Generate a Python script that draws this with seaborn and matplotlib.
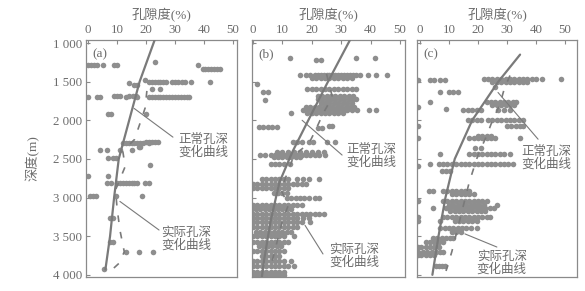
import numpy as np
import pandas as pd
import matplotlib
matplotlib.use("Agg")
import matplotlib.pyplot as plt
import seaborn as sns

sns.set_style("white")
plt.rcParams['font.family'] = ['Liberation Serif', 'Noto Sans CJK SC']
plt.rcParams['axes.unicode_minus'] = False

# ---------------- data ----------------
x_ticks = [0, 10, 20, 30, 40, 50]
y_ticks = [1000, 1500, 2000, 2500, 3000, 3500, 4000]
y_tick_labels = ["1 000", "1 500", "2 000", "2 500", "3 000", "3 500", "4 000"]
panel_labels = ["(a)", "(b)", "(c)"]
x_title = "孔隙度(%)"
y_title = "深度(m)"
normal_text = "正常孔深\n变化曲线"
actual_text = "实际孔深\n变化曲线"

# panel (a) measured porosity, grouped by depth row
a_depths = [1240, 1290, 1340, 1480, 1500, 1520, 1540, 1600, 1690, 1700, 1920,
            2280, 2300, 2340, 2390, 2490, 2580, 2720, 2810, 2980, 3260, 3570,
            3700, 3930]
a_porosity = [
    [23],
    [0, 1, 2, 3, 5, 9, 10, 38],
    [39.5, 40.5, 41.5, 42.5, 43.5, 44.5, 45.5],
    [19.5],
    [21, 22, 23, 24, 25, 26, 27, 29, 30, 31, 32.5, 33.5, 35.5, 42],
    [14],
    [16, 17],
    [22, 25],
    [9, 10, 11, 14, 15.5, 16.5],
    [0, 3, 4, 13, 17, 21, 22, 23, 24, 25, 26, 27, 28, 29, 30, 31, 32, 33, 34, 35],
    [7, 8, 20],
    [20, 21, 22, 23, 24],
    [12, 13, 14, 15, 16, 17, 18, 19, 21],
    [17.5, 18],
    [4, 6.5, 11, 15],
    [7, 8.5, 9.5],
    [21.5],
    [0, 7],
    [6.5, 8, 10, 11, 12, 13, 14, 15, 16, 17, 19.5, 21],
    [0.7, 1.7, 2.7, 9.5, 18.5],
    [7.5, 8.5],
    [7.5, 8.5],
    [13, 17.5, 22.5],
    [5.5],
]

# panel (b)
b_depths = [1190, 1200, 1220, 1420, 1450, 1530, 1600, 1640, 1680, 1720, 1740,
            1770, 1830, 1870, 1910, 2070, 2090, 2100, 2280, 2410, 2450, 2480,
            2560, 2760, 2830, 2880, 2940, 3010, 3100, 3150, 3210, 3260, 3320,
            3380, 3440, 3500, 3570, 3630, 3690, 3760, 3820, 3880, 3960, 4000]
b_porosity = [
    [12.5],
    [35, 41.5],
    [21.5, 23],
    [16, 18, 19.5, 21, 22, 23, 24, 25, 26, 27, 28, 29, 30, 31, 32, 33, 34, 35, 36.5, 39, 42, 45.5],
    [20, 21.5, 23, 24.5, 26, 27.5, 29, 30.5, 32, 33.5],
    [1.2],
    [18.5, 20, 21.5, 23, 24.5, 26, 27.5, 29, 30.5, 32, 33.5, 35],
    [3.5, 5],
    [22, 23.5, 25, 26.5, 28, 29.5, 31, 32.5, 34],
    [22, 23.5, 25, 26.5, 28, 29.5, 31, 32.5, 34, 35],
    [4],
    [23, 24.5, 26, 27.5, 29, 30.5, 32, 33.5],
    [18, 19.5, 21, 22.5, 24, 25.5, 27, 28.5, 30, 31.5, 33, 34.5],
    [17, 18.5, 20, 21.5, 23, 24.5, 26, 27.5, 29, 30.5, 32, 33.5, 35.5, 39.5, 42],
    [13, 18.5, 20, 21.5, 23, 24.5, 26, 27.5, 29, 30.5],
    [26, 27],
    [2, 3.5, 5, 6.5, 8],
    [22, 23.5],
    [13.5, 15, 16.5, 19, 20.5, 25, 28],
    [8, 10, 12, 14, 16, 18, 20, 22, 24],
    [2.5, 4, 6, 7.5, 9, 10.5, 12, 13.5, 15, 16.5, 18, 19.5, 21, 22.5, 24.5],
    [7, 8.5, 10, 11.5, 13, 14.5, 16],
    [6, 7.5, 9, 10.5, 12.5],
    [3, 4.5, 6, 7.5, 9, 10.5, 12, 15, 17, 19, 22.5],
    [0, 1.5, 3, 4.5, 6, 7.5, 9, 10.5, 12, 13.5, 15, 16.5, 18],
    [0, 1.5, 3, 4.5, 6, 7.5, 9, 10.5, 12],
    [7, 8.5, 10, 11.5],
    [11.5, 13, 14.5, 16, 17.5, 19, 21, 22.5],
    [0, 1.5, 3, 4.5, 6, 7.5, 9, 10.5, 12, 13.5, 15, 16.5],
    [-0.3, 1, 2.5, 4, 5.5, 7, 8.5, 10, 11.5, 13],
    [0, 1.5, 3, 4.5, 6, 7.5, 9, 10.5, 12, 13.5, 15, 16.5, 18, 19.5, 21, 22.5, 24],
    [0, 1.5, 3, 4.5, 6, 7.5, 9, 10.5, 12, 13.5, 15, 17, 19],
    [0, 1.5, 3, 4.5, 6, 7.5, 9, 10.5, 12, 13.5, 15, 16.5, 19.5],
    [0, 1.5, 3, 4.5, 6, 7.5, 9, 10.5, 12, 13.5, 15],
    [1, 2.5, 4, 5.5, 7, 8.5, 10, 11.5, 13],
    [0, 1.5, 3, 4.5, 6, 7.5, 9, 10.5, 14],
    [0, 1.5, 3, 4.5, 6, 7.5, 9, 10.5, 12],
    [2, 3.5, 5, 6.5, 8, 9.5],
    [0, 1.5, 3, 4.5, 6, 7.5, 9, 10.5],
    [3, 4.5, 6, 7.5, 9],
    [0, 1.5, 3, 4.5, 6, 7.5, 9, 10.5, 13],
    [0, 1.5, 3, 4.5, 6, 7.5, 9, 10.5, 12, 14],
    [0, 1.5, 3, 4.5, 6, 7.5, 9, 10.5],
    [0, 1.5, 3, 4.5, 6, 7.5, 9, 10.5],
]

# panel (c)
c_depths = [1460, 1480, 1500, 1570, 1640, 1760, 1800, 1830, 1860, 1870, 2000,
            2080, 2200, 2230, 2360, 2440, 2560, 2590, 2650, 2920, 2960, 3050,
            3100, 3130, 3180, 3250, 3300, 3390, 3440, 3520, 3580, 3640, 3700,
            3740, 3880]
c_porosity = [
    [22, 23.5, 25, 26.5, 28, 29.5, 31, 32.5, 34, 35.5, 37, 38.5, 40, 42, 48.5],
    [-0.8, 3.5, 5, 7, 8.5],
    [25, 26.5, 28, 29.5, 31, 32.5, 34, 35.5, 37],
    [26],
    [7, 10, 11.5, 13],
    [3.5, 23, 24.5, 26, 27.5, 29, 30.5, 32, 33],
    [25, 26.5, 28, 29.5, 31, 32.5],
    [-0.8],
    [9],
    [15, 16.5, 18, 19.5, 21, 27, 29, 31],
    [16.5, 18, 19.5, 21, 23.5, 25, 26.5, 28, 29.5, 31, 32.5, 34, 35.5],
    [-0.8, 30, 31.5, 33, 34.5, 35.5],
    [20, 21.5, 23, 24.5],
    [-0.8, 17, 18.5, 20, 21.5, 23, 24.5, 26, 34.5],
    [19, 21],
    [7, 17, 18.5, 20, 21.5, 23, 24.5, 26, 27.5, 29, 31],
    [3.5, 6.5, 8, 9.5, 11, 12.5, 14, 15.5, 17, 18.5, 20, 21.5, 23, 24.5, 26, 27.5, 29, 30.5, 32],
    [-0.8],
    [7.5, 9, 10.5],
    [3, 4.5, 8, 9.5, 11, 12.5, 14, 15.5, 17],
    [11, 12.5, 14, 15.5, 17, 18.5],
    [-0.8, 8, 9.5, 11, 12.5, 14, 15.5, 17, 18.5, 20, 21.5, 23],
    [10, 11.5, 13, 14.5, 16, 17.5, 19, 20.5, 22, 26.5],
    [4.5, 9, 10.5, 12, 13.5, 15, 16.5, 18, 19.5, 21, 22.5, 24, 25.5],
    [10.5, 12, 13.5, 15, 16.5, 18, 19.5, 21, 22.5],
    [-0.8, 8, 9.5, 11, 12.5, 14, 15.5, 17, 18.5, 20, 21.5, 23, 24],
    [-0.8, 7, 12, 13.5, 15, 16.5, 18, 19.5],
    [7, 8.5, 10, 11.5, 13, 14.5, 16, 17.5, 19.5],
    [11, 12.5, 14],
    [4.5, 6, 7.5, 9, 10.5, 11.5],
    [2, 3.5, 5, 6.5, 8],
    [-0.8, 0.5, 2, 3.5, 5, 6.5],
    [-0.8, 1, 2.5, 4, 5.5, 7, 8],
    [-0.8, 0.5, 2, 3.5, 5],
    [5.5, 6.5, 7.5, 8.5],
]

# normal compaction curves (solid)
a_normal_depth = [960, 1500, 2000, 2500, 3000, 3500, 3930]
a_normal_poro = [23, 17.8, 14.2, 10.6, 9.0, 7.6, 6.0]
b_normal_depth = [960, 1500, 2000, 2400, 2800, 3300, 3800, 4030]
b_normal_poro = [33, 25.5, 18.8, 13.5, 9.0, 6.0, 3.8, 3.0]
c_normal_depth = [1150, 1500, 2000, 2500, 3000, 3500, 4000]
c_normal_poro = [34.5, 27.0, 18.0, 12.0, 8.8, 6.4, 4.3]

# actual curves (dashed)
a_actual_depth = [1620, 1840, 2000, 2250, 2400, 2600, 2900, 3130, 3420, 3700, 3840, 3960]
a_actual_poro = [20.3, 19.7, 18.3, 16.0, 12.0, 12.8, 9.5, 10.0, 11.0, 12.5, 11.0, 7.5]
b_actual_depth = [1400, 1700, 1900, 2150, 2300, 2450, 2900, 3100, 3300, 3600, 3900]
b_actual_poro = [25, 27, 24, 21, 19, 14, 9.5, 12, 10, 8, 6]
c_actual_depth = [1420, 1600, 1800, 2000, 2200, 2450, 2800, 3100, 3400, 3700, 3950]
c_actual_poro = [31, 29, 27.5, 25, 23, 20, 17, 15, 13, 11, 9]

# ---------------- styling ----------------
TXT = "#6c6c6c"
DOT = "#8e8e8e"
LINE = "#7a7a7a"
FRAME = "#8a8a8a"


def expand(depths, rows):
    d, p = [], []
    for dep, xs in zip(depths, rows):
        d += [dep] * len(xs)
        p += list(xs)
    return pd.DataFrame({"depth": d, "porosity": p})


fig = plt.figure(figsize=(5.85, 2.91), dpi=100)
fig.patch.set_facecolor("white")

H = 291.0
W = 585.0
top_px, bot_px = 40, 277
positions = [(86, 237), (252, 405), (417, 577)]
xlims = [(-0.7, 51.4), (-0.35, 51.7), (-1.0, 54.1)]

panels = [
    dict(df=expand(a_depths, a_porosity),
         nd=a_normal_depth, npor=a_normal_poro,
         ad=a_actual_depth, apor=a_actual_poro,
         n_xy=(15.9, 1846), n_line=(29.3, 2218), n_txt=(31.3, 2160),
         a_xy=(11.0, 3050), a_line=(24.5, 3420), a_txt=(25.2, 3360)),
    dict(df=expand(b_depths, b_porosity),
         nd=b_normal_depth, npor=b_normal_poro,
         ad=b_actual_depth, apor=b_actual_poro,
         n_xy=(16.7, 2000), n_line=(30.3, 2450), n_txt=(31.6, 2290),
         a_xy=(17.7, 3360), a_line=(23.8, 3730), a_txt=(25.8, 3590)),
    dict(df=expand(c_depths, c_porosity),
         nd=c_normal_depth, npor=c_normal_poro,
         ad=c_actual_depth, apor=c_actual_poro,
         n_xy=(26.9, 1640), n_line=(40.7, 2245), n_txt=(35.0, 2320),
         a_xy=(15.5, 3470), a_line=(26.5, 3640), a_txt=(19.6, 3675)),
]

for i, (p, (l, r), xl) in enumerate(zip(panels, positions, xlims)):
    ax = fig.add_axes([l / W, 1 - bot_px / H, (r - l) / W, (bot_px - top_px) / H])
    ax.set_facecolor("white")

    sns.scatterplot(data=p["df"], x="porosity", y="depth", ax=ax,
                    s=16, color=DOT, linewidth=0, legend=False, zorder=2)
    sns.lineplot(x=p["npor"], y=p["nd"], ax=ax, sort=False, estimator=None,
                 color=LINE, lw=1.6, zorder=3)
    sns.lineplot(x=p["apor"], y=p["ad"], ax=ax, sort=False, estimator=None,
                 color=LINE, lw=1.2, dashes=False, zorder=3,
                 linestyle=(0, (4, 6)))

    ax.set_xlim(*xl)
    ax.set_ylim(4028, 961)

    ax.xaxis.tick_top()
    ax.xaxis.set_label_position("top")
    ax.set_xticks(x_ticks)
    ax.set_xticklabels([str(t) for t in x_ticks])
    ax.set_xlabel(x_title, fontsize=9.5, color=TXT, labelpad=3)
    ax.set_yticks(y_ticks)
    if i == 0:
        ax.set_yticklabels(y_tick_labels)
        ax.set_ylabel(y_title, fontsize=9.5, color=TXT, labelpad=9)
    else:
        ax.set_yticklabels([])
        ax.set_ylabel("")
    ax.tick_params(axis="both", direction="in", length=3, width=0.8,
                   colors=FRAME, labelcolor=TXT, labelsize=9.3, pad=3)
    ax.tick_params(axis="y", left=True, right=False)
    ax.tick_params(axis="x", top=True, bottom=False)
    for s in ax.spines.values():
        s.set_color(FRAME)
        s.set_linewidth(0.9)

    ax.text(0.04, 0.965, panel_labels[i], transform=ax.transAxes,
            ha="left", va="top", fontsize=9.5, color=TXT)

    ax.annotate("", xy=p["n_xy"], xytext=p["n_line"],
                arrowprops=dict(arrowstyle="-", color=LINE, lw=0.8,
                                shrinkA=0, shrinkB=0))
    ax.text(*p["n_txt"], normal_text, ha="left", va="top", fontsize=9,
            color=TXT, linespacing=1.0, family=['Noto Sans CJK SC'])
    ax.annotate("", xy=p["a_xy"], xytext=p["a_line"],
                arrowprops=dict(arrowstyle="-", color=LINE, lw=0.8,
                                shrinkA=0, shrinkB=0))
    ax.text(*p["a_txt"], actual_text, ha="left", va="top", fontsize=9,
            color=TXT, linespacing=1.0, family=['Noto Sans CJK SC'])

fig.savefig("out.png", dpi=100, facecolor="white")
